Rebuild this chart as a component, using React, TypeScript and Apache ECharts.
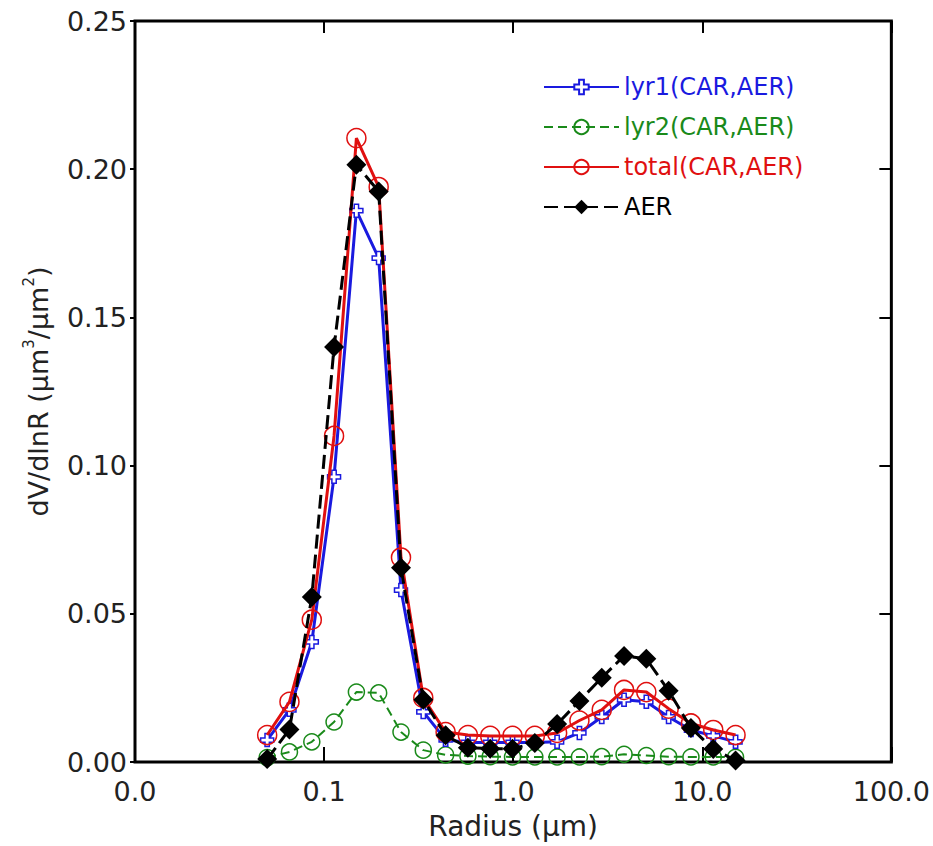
import React, { useEffect, useRef } from "react";
import * as echarts from "echarts";

const radius = [0.05, 0.0656, 0.0861, 0.1129, 0.1482, 0.1944, 0.2551, 0.3347, 0.4392, 0.5762, 0.7561, 0.992, 1.3016, 1.7078, 2.2407, 2.94, 3.8575, 5.0613, 6.6407, 8.7131, 11.4323, 15.0];
const lyr1 = [0.0074, 0.0176, 0.0405, 0.0962, 0.186, 0.170, 0.058, 0.0169, 0.0075, 0.0066, 0.0066, 0.0066, 0.0066, 0.0068, 0.0098, 0.0152, 0.021, 0.0203, 0.0152, 0.0108, 0.0088, 0.0068];
const lyr2 = [0.0015, 0.0034, 0.0068, 0.0135, 0.0236, 0.0233, 0.0101, 0.004, 0.0024, 0.002, 0.0018, 0.0017, 0.0017, 0.0017, 0.0017, 0.0018, 0.0026, 0.0022, 0.0018, 0.0017, 0.0017, 0.0016];
const total = [0.0091, 0.0203, 0.048, 0.110, 0.2105, 0.194, 0.069, 0.0216, 0.0101, 0.0091, 0.0088, 0.0088, 0.0088, 0.0098, 0.014, 0.0176, 0.0243, 0.0236, 0.018, 0.013, 0.0108, 0.0091];
const aer = [0.001, 0.011, 0.0557, 0.140, 0.2015, 0.1925, 0.0655, 0.021, 0.009, 0.0048, 0.0045, 0.0045, 0.0064, 0.0128, 0.0206, 0.0284, 0.0358, 0.0348, 0.024, 0.0115, 0.0044, 0.0005];

const seriesNames = ["lyr1(CAR,AER)", "lyr2(CAR,AER)", "total(CAR,AER)", "AER"];
const seriesColors = ["#1a1adf", "#1a8a1a", "#e01010", "#000000"];

const FONT = "'DejaVu Sans', sans-serif";
const PLUS = "path://M2,0H4V2H6V4H4V6H2V4H0V2H2Z";

const pairs = (ys: number[]) => radius.map((r, i) => [r, ys[i]]);

export default function App() {
  const ref = useRef<HTMLDivElement>(null);
  useEffect(() => {
    if (!ref.current) return;
    const chart = echarts.init(ref.current, undefined, { renderer: "svg" });
    const tick = (inside: boolean, length: number) => ({
      show: true,
      inside,
      length,
      lineStyle: { color: "#000", width: 2 },
    });
    chart.setOption({
      animation: false,
      backgroundColor: "#fff",
      grid: {
        left: 135,
        right: 40,
        top: 21,
        bottom: 84,
        show: true,
        borderColor: "#000",
        borderWidth: 3,
        backgroundColor: "rgba(0,0,0,0)",
      },
      legend: {
        orient: "vertical",
        left: 538,
        top: 70,
        itemWidth: 75,
        itemHeight: 18,
        itemGap: 16,
        textStyle: { fontFamily: FONT, fontSize: 24, lineHeight: 22 },
        data: seriesNames.map((n, i) => ({ name: n, textStyle: { color: seriesColors[i] } })),
      },
      xAxis: [
        {
          type: "log",
          logBase: 10,
          min: 0.01,
          max: 100,
          position: "bottom",
          axisLine: { show: false, onZero: false },
          axisTick: tick(true, 15),
          minorTick: { show: false },
          splitLine: { show: false },
          axisLabel: {
            fontFamily: FONT,
            fontSize: 27,
            color: "#222",
            margin: 16,
            formatter: (v: number) => v.toFixed(1),
          },
          name: "Radius (μm)",
          nameLocation: "middle",
          nameGap: 50,
          nameTextStyle: { fontFamily: FONT, fontSize: 28, color: "#222" },
        },
        {
          type: "log",
          logBase: 10,
          min: 0.01,
          max: 100,
          position: "top",
          axisLine: { show: false, onZero: false },
          axisTick: tick(true, 12),
          axisLabel: { show: false },
          splitLine: { show: false },
        },
      ],
      yAxis: [
        {
          type: "value",
          min: 0,
          max: 0.25,
          interval: 0.05,
          position: "left",
          axisLine: { show: false, onZero: false },
          axisTick: tick(false, 5),
          splitLine: { show: false },
          axisLabel: {
            fontFamily: FONT,
            fontSize: 27,
            color: "#222",
            margin: 8,
            formatter: (v: number) => v.toFixed(2),
          },
          name: "dV/dlnR (μm{sup|3}/μm{sup|2})",
          nameLocation: "middle",
          nameGap: 80,
          nameTextStyle: {
            fontFamily: FONT,
            fontSize: 27,
            color: "#222",
            lineHeight: 34,
            rich: {
              sup: { fontFamily: FONT, fontSize: 15, color: "#222", verticalAlign: "top", lineHeight: 34 },
            },
          },
        },
        {
          type: "value",
          min: 0,
          max: 0.25,
          interval: 0.05,
          position: "right",
          axisLine: { show: false, onZero: false },
          axisTick: tick(true, 12),
          axisLabel: { show: false },
          splitLine: { show: false },
        },
      ],
      series: [
        {
          name: seriesNames[0],
          type: "line",
          data: pairs(lyr1),
          z: 3,
          symbol: PLUS,
          symbolSize: 13,
          showAllSymbol: true,
          lineStyle: { color: seriesColors[0], width: 3 },
          itemStyle: { color: "#fff", borderColor: seriesColors[0], borderWidth: 1.5 },
        },
        {
          name: seriesNames[1],
          type: "line",
          data: pairs(lyr2),
          z: 2,
          symbol: "circle",
          symbolSize: 16,
          showAllSymbol: true,
          lineStyle: { color: seriesColors[1], width: 2, type: [9, 5] },
          itemStyle: { color: "rgba(0,0,0,0)", borderColor: seriesColors[1], borderWidth: 1.5 },
        },
        {
          name: seriesNames[2],
          type: "line",
          data: pairs(total),
          z: 4,
          symbol: "circle",
          symbolSize: 19,
          showAllSymbol: true,
          lineStyle: { color: seriesColors[2], width: 3 },
          itemStyle: { color: "rgba(0,0,0,0)", borderColor: seriesColors[2], borderWidth: 1.5 },
        },
        {
          name: seriesNames[3],
          type: "line",
          data: pairs(aer),
          z: 5,
          symbol: "diamond",
          symbolSize: 20,
          showAllSymbol: true,
          lineStyle: { color: seriesColors[3], width: 3, type: [14, 6] },
          itemStyle: { color: "#000", borderColor: "#000", borderWidth: 0 },
        },
      ],
    });
    return () => chart.dispose();
  }, []);
  return (
    <div
      ref={ref}
      style={{ position: "fixed", left: 0, top: 0, width: 933, height: 846, background: "#fff" }}
    />
  );
}
